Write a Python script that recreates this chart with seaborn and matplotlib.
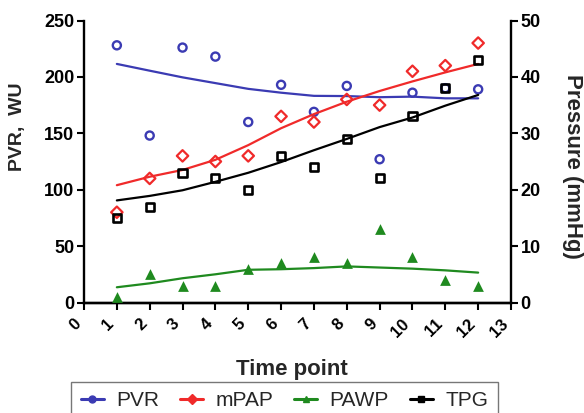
import matplotlib
matplotlib.use("Agg")
import matplotlib.pyplot as plt
import seaborn as sns
from matplotlib.lines import Line2D

# Haemodynamic measurements at each time point
time_points = [1, 2, 3, 4, 5, 6, 7, 8, 9, 10, 11, 12]
pvr = [228, 148, 226, 218, 160, 193, 169, 192, 127, 186, 190, 189]   # WU, left axis
mpap = [16, 22, 26, 25, 26, 33, 32, 36, 35, 41, 42, 46]              # mmHg, right axis
pawp = [1, 5, 3, 3, 6, 7, 8, 7, 13, 8, 4, 3]                        # mmHg, right axis
tpg = [15, 17, 23, 22, 20, 26, 24, 29, 22, 33, 38, 43]              # mmHg, right axis

# Smoothed trend of each series at the same time points
pvr_trend = [211.5, 205.5, 199.6, 194.5, 189.4, 186.0, 183.2, 183.0, 182.0, 182.5, 181.0, 181.0]
mpap_trend = [20.8, 22.3, 23.5, 25.3, 27.9, 30.9, 33.4, 35.6, 37.5, 39.2, 40.8, 42.3]
pawp_trend = [2.7, 3.4, 4.3, 5.0, 5.8, 5.9, 6.1, 6.4, 6.2, 6.0, 5.7, 5.3]
tpg_trend = [18.1, 18.9, 19.9, 21.4, 23.0, 24.9, 27.0, 29.0, 31.1, 32.8, 34.9, 36.8]

x_ticks = list(range(0, 14))
left_ticks = [0, 50, 100, 150, 200, 250]
right_ticks = [0, 10, 20, 30, 40, 50]

series_names = ["PVR", "mPAP", "PAWP", "TPG"]
colors = {"PVR": "#3b3bb3", "mPAP": "#f02a2a", "PAWP": "#1f8a1f", "TPG": "#000000"}
markers = {"PVR": "o", "mPAP": "D", "PAWP": "^", "TPG": "s"}

sns.set_theme(style="ticks")
plt.rcParams["font.family"] = ["Liberation Sans", "DejaVu Sans"]

W, H = 584, 413
fig = plt.figure(figsize=(W / 100, H / 100), dpi=100)
ax = fig.add_axes([84 / W, 1 - 302.5 / H, (511 - 84) / W, (302.5 - 20.5) / H])
ax2 = ax.twinx()

lw = 1.6
series = [
    ("PVR", pvr, pvr_trend, ax, dict(s=34, facecolors="none", linewidth=1.7)),
    ("mPAP", mpap, mpap_trend, ax2, dict(s=34, facecolors="none", linewidth=1.6)),
    ("PAWP", pawp, pawp_trend, ax2, dict(s=60, linewidth=0)),
    ("TPG", tpg, tpg_trend, ax2, dict(s=34, facecolors="none", linewidth=1.9)),
]
for name, vals, trend, a, kws in series:
    sns.lineplot(x=time_points, y=trend, ax=a, color=colors[name], lw=lw, zorder=2)
    sns.scatterplot(x=time_points, y=vals, ax=a, marker=markers[name],
                    color=colors[name], edgecolor=colors[name], zorder=3, **kws)

ax.set_xlim(0, 13)
ax.set_ylim(0, 250)
ax2.set_ylim(0, 50)
ax.set_xticks(x_ticks)
ax.set_yticks(left_ticks)
ax2.set_yticks(right_ticks)

ax.set_xticklabels([str(t) for t in x_ticks], rotation=45, ha="right",
                   fontsize=12, fontweight="bold")
ax.set_yticklabels([str(t) for t in left_ticks], fontsize=13, fontweight="bold")
ax2.set_yticklabels([str(t) for t in right_ticks], fontsize=13, fontweight="bold")

for a in (ax, ax2):
    a.spines["top"].set_visible(False)
    for s in ("left", "right", "bottom"):
        a.spines[s].set_linewidth(1.7)
        a.spines[s].set_color("black")
    a.tick_params(direction="out", length=5, width=1.5, colors="black", pad=2)
ax.spines["right"].set_visible(False)
ax2.spines["left"].set_visible(False)
ax.tick_params(axis="x", pad=5)

ax.set_xlabel("Time point", fontsize=16, fontweight="bold", va="center")
ax.xaxis.set_label_coords((292 - 84) / (511 - 84), (302.5 - 370) / 282)
ax.set_ylabel("PVR,  WU", fontsize=14, fontweight="bold", va="center")
ax.yaxis.set_label_coords((17.5 - 84) / (511 - 84), (302.5 - 127) / 282)
ax2.set_ylabel("Pressure (mmHg)", fontsize=16, fontweight="bold", rotation=270, va="center")
ax2.yaxis.set_label_coords((572 - 84) / (511 - 84), (302.5 - 166) / 282)

handles = [Line2D([0], [0], color=colors[n], lw=2.2, marker=markers[n], markersize=5)
           for n in series_names]
leg = fig.legend(handles, series_names, loc="upper center", ncol=4,
                 bbox_to_anchor=(284.5 / W, 1 - 382 / H), fontsize=15,
                 frameon=True, fancybox=False, handlelength=1.1, handletextpad=0.6,
                 columnspacing=1.0, borderpad=0.45, borderaxespad=0)
leg.get_frame().set_edgecolor("#555555")
leg.get_frame().set_linewidth(1.0)

fig.savefig("out.png", dpi=100)
